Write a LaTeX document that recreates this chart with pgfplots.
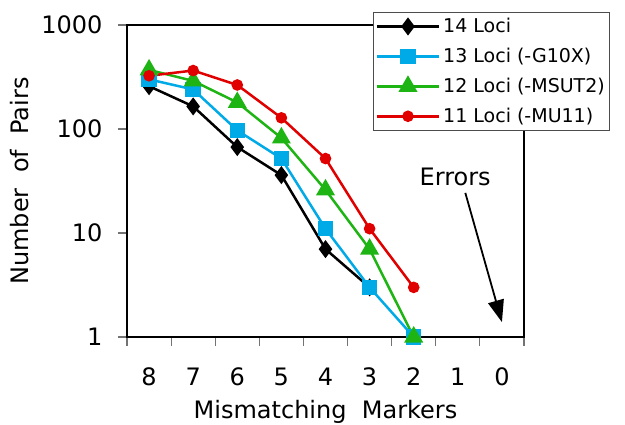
\documentclass[border=0pt]{standalone}
\usepackage{pgfplots}
\pgfplotsset{compat=1.18}
\usepackage{fontspec}
\setmainfont{DejaVu Sans}
\usetikzlibrary{arrows.meta}
\definecolor{cblue}{RGB}{0,170,230}
\definecolor{cgreen}{RGB}{30,180,20}
\definecolor{cred}{RGB}{225,0,0}
\pgfplotsset{mylegimg/.style={legend image code/.code={\draw[mark repeat=2,mark phase=2] plot coordinates {(0pt,0pt) (31pt,0pt) (62pt,0pt)};}}}
\begin{document}
\begin{tikzpicture}
\useasboundingbox (0,0) rectangle (625pt,424pt);
\begin{axis}[
  at={(127pt,87pt)}, anchor=south west,
  scale only axis, width=397pt, height=312pt,
  ymode=log, ymin=1, ymax=1000,
  xmin=-0.5, xmax=8.5,
  xtick={-0.5,0.5,...,8.5},
  xticklabels={8,7,6,5,4,3,2,1,0},
  x tick label as interval,
  ytick={1,10,100,1000},
  yticklabels={1,10,100,1000},
  yminorticks=false,
  xtick pos=bottom, ytick pos=left,
  tick align=outside,
  major tick length=9pt,
  tick style={black!55, line width=1.2pt},
  axis line style={line width=1.2pt},
  /pgf/number format/assume math mode=true,
  tick label style={font=\fontsize{24}{28}\selectfont},
  xticklabel style={yshift=-18pt},
  yticklabel style={xshift=-12pt},
  label style={font=\fontsize{24}{28}\selectfont},
  xlabel={Mismatching\ \ Markers},
  ylabel={Number\ \ of\ \ Pairs},
  xlabel style={yshift=-8pt},
  ylabel style={yshift=6pt},
  legend cell align=left,
  legend style={at={(axis description cs:0.62,1.042)}, anchor=north west,
    draw=black!70, line width=1.2pt, font=\fontsize{19}{22}\selectfont,
    row sep=10pt, inner xsep=2pt, inner ysep=4pt,
    nodes={inner xsep=3pt}},
  every axis plot/.append style={line width=2.5pt},
]
\addplot[black, mark=diamond*, mark size=7pt, mylegimg] coordinates {(0,258)(1,165)(2,67)(3,36)(4,7)(5,3)};
\addlegendentry{14 Loci}
\addplot[cblue, mark=square*, mark size=6.5pt, mylegimg] coordinates {(0,300)(1,240)(2,97)(3,52)(4,11)(5,3)(6,1)};
\addlegendentry{13 Loci (-G10X)}
\addplot[cgreen, mark=triangle*, mark size=8.5pt, mylegimg] coordinates {(0,370)(1,290)(2,180)(3,82)(4,26)(5,7)(6,1)};
\addlegendentry{12 Loci (-MSUT2)}
\addplot[cred, mark=*, mark size=4.5pt, mylegimg] coordinates {(0,325)(1,365)(2,265)(3,128)(4,52)(5,11)(6,3)};
\addlegendentry{11 Loci (-MU11)}
\node[font=\fontsize{24}{28}\selectfont] at (axis cs:6.94,34.6) {Errors};
\draw[line width=1.8pt, -{Triangle[length=22pt,width=16pt]}] (axis cs:7.17,24.3) -- (axis cs:8,1.39);
\end{axis}
\end{tikzpicture}
\end{document}
